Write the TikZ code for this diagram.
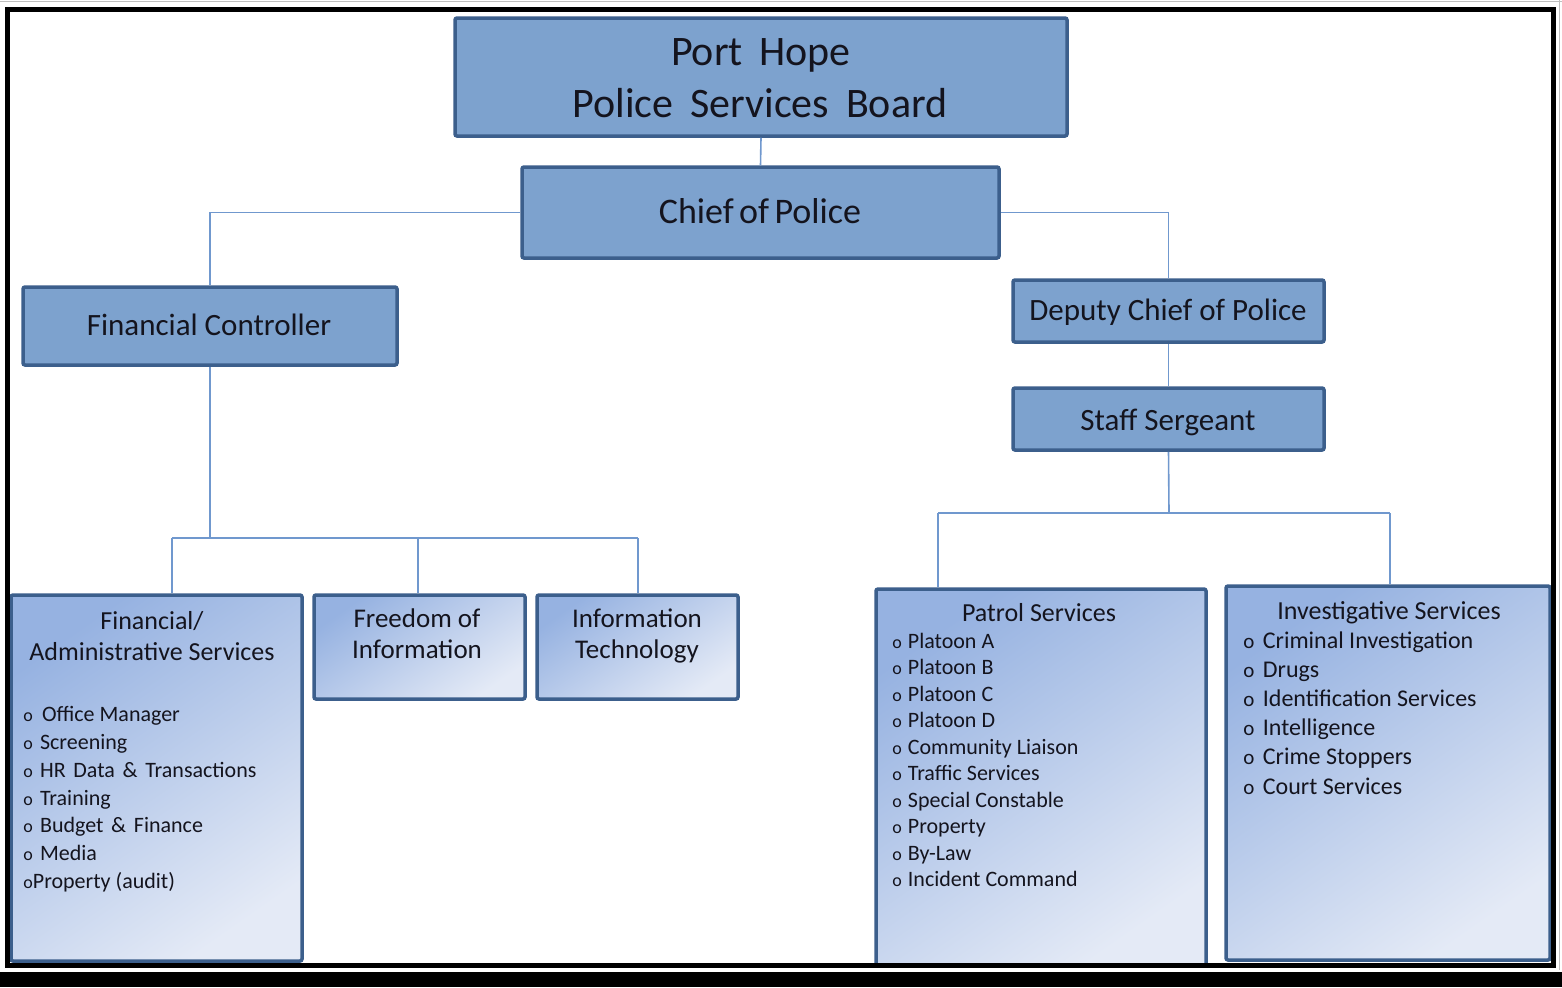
\documentclass[tikz,border=0pt]{standalone}
\usepackage{fontspec}
\setmainfont{Carlito}
\definecolor{boxfill}{RGB}{125,162,206}
\definecolor{boxline}{RGB}{60,95,140}
\definecolor{conncol}{RGB}{112,152,206}
\definecolor{gradA}{RGB}{150,178,225}
\definecolor{gradM}{RGB}{194,208,237}
\definecolor{gradB}{RGB}{228,234,246}
\definecolor{txt}{RGB}{20,20,30}
\newcommand\bulP{{\fontsize{9}{9}\selectfont o}\hspace{3pt}}
\newcommand\bulF{{\fontsize{9}{9}\selectfont o}\hspace{3.6pt}}
\newcommand\bulI{{\fontsize{10.5}{10.5}\selectfont o}\hspace{4.2pt}}
\newcommand\fsz[1]{\fontsize{#1}{#1}\selectfont}
\tikzset{
  topbox/.style={draw=boxline, line width=1.75pt, fill=boxfill, rounded corners=1pt, inner sep=0pt},
  subbox/.style={draw=boxline, line width=1.75pt, top color=gradA, middle color=gradM, bottom color=gradB, shading angle=35, rounded corners=1pt, inner sep=0pt},
  conn/.style={draw=conncol, line width=0.8pt},
  lbl/.style={anchor=base, inner sep=0pt, text=txt},
  itm/.style={anchor=base west, inner sep=0pt, text=txt},
}
\begin{document}
\begin{tikzpicture}[x=0.5pt,y=-0.5pt]
\useasboundingbox (0,0) rectangle (1562,987);
\fill[white] (0,0) rectangle (1562,987);

% boxes
\node[topbox, minimum width=306pt, minimum height=59pt] (board) at (761,77) {};
\node[topbox, minimum width=238.5pt, minimum height=45.5pt] (chief) at (760.5,212.5) {};
\node[topbox, minimum width=187pt, minimum height=39pt] (fc) at (210,326) {};
\node[topbox, minimum width=155.5pt, minimum height=31pt] (deputy) at (1168.5,311) {};
\node[topbox, minimum width=155.5pt, minimum height=31pt] (staff) at (1168.5,419) {};
\node[subbox, minimum width=145.5pt, minimum height=183pt] (finadm) at (156.5,778) {};
\node[subbox, minimum width=105.5pt, minimum height=52pt] (foi) at (419.5,647) {};
\node[subbox, minimum width=100.5pt, minimum height=52pt] (it) at (637.5,647) {};
\node[subbox, minimum width=165pt, minimum height=188.5pt] (patrol) at (1041,777.5) {};
\node[subbox, minimum width=162pt, minimum height=187pt] (inv) at (1388,773) {};

% connectors
\draw[conn] (board.south) -- (chief.north);
\draw[conn] (chief.west) -| (fc.north);
\draw[conn] (chief.east) -| (deputy.north);
\draw[conn] (deputy.south) -- (staff.north);
\coordinate (fbus) at (210,538);
\coordinate (fa) at (172,538);
\coordinate (fb) at (418,538);
\coordinate (fcc) at (638,538);
\draw[conn] (fc.south) -- (fbus);
\draw[conn] (fa) -- (fcc);
\draw[conn] (fa) -- (fa |- finadm.north);
\draw[conn] (fb) -- (fb |- foi.north);
\draw[conn] (fcc) -- (fcc |- it.north);
\coordinate (sbus) at (1169,513);
\coordinate (pa) at (938,513);
\coordinate (pb) at (1390,513);
\draw[conn] (staff.south) -- (sbus);
\draw[conn] (pa) -- (pb);
\draw[conn] (pa) -- (pa |- patrol.north);
\draw[conn] (pb) -- (pb |- inv.north);

% titles
\node[lbl, font=\fsz{21}] (t1) at (761,65) {Port\hspace{0.4em}Hope};
\node[lbl, font=\fsz{21}] (t2) at (760,117) {Police\hspace{0.4em}Services\hspace{0.4em}Board};
\node[lbl, font=\fsz{18}] (t3) at (760,223) {Chief\hspace{0.15em}of\hspace{0.15em}Police};
\node[lbl, font=\fsz{15.5}] (t4) at (209,335) {Financial Controller};
\node[lbl, font=\fsz{15.5}] (t5) at (1168,320) {Deputy Chief of Police};
\node[lbl, font=\fsz{15.5}] (t6) at (1168,430) {Staff Sergeant};
\node[lbl, font=\fsz{13}] (t7) at (152,629) {Financial/};
\node[lbl, font=\fsz{13}] (t8) at (152,660) {Administrative Services};
\node[lbl, font=\fsz{13.5}] (t9) at (417,627) {Freedom of};
\node[lbl, font=\fsz{13.5}] (t10) at (417,658) {Information};
\node[lbl, font=\fsz{13.5}] (t11) at (637,627) {Information};
\node[lbl, font=\fsz{13.5}] (t12) at (637,658) {Technology};
\node[lbl, font=\fsz{13}] (t13) at (1039,621) {Patrol Services};
\node[lbl, font=\fsz{13}] (t14) at (1389,619) {Investigative Services};

% financial / admin list
\begin{scope}[every node/.style={itm, font=\fsz{11}}]
\node (f1) at (23,721.7) {\bulF\hspace{1pt}Office Manager};
\node (f2) at (23,749.5) {\bulF Screening};
\node (f3) at (23,777.3) {\bulF HR\hspace{0.35em}Data\hspace{0.35em}\&\hspace{0.35em}Transactions};
\node (f4) at (23,805.1) {\bulF Training};
\node (f5) at (23,832.9) {\bulF Budget\hspace{0.35em}\&\hspace{0.35em}Finance};
\node (f6) at (23,860.7) {\bulF Media};
\node (f7) at (23,888.5) {{\fsz{9}o}Property (audit)};
\end{scope}

% patrol list
\begin{scope}[every node/.style={itm, font=\fsz{11}}]
\node (p1) at (892,648) {\bulP Platoon A};
\node (p2) at (892,674.5) {\bulP Platoon B};
\node (p3) at (892,701) {\bulP Platoon C};
\node (p4) at (892,727.5) {\bulP Platoon D};
\node (p5) at (892,754) {\bulP Community Liaison};
\node (p6) at (892,780.5) {\bulP Traffic Services};
\node (p7) at (892,807) {\bulP Special Constable};
\node (p8) at (892,833.5) {\bulP Property};
\node (p9) at (892,860) {\bulP By-Law};
\node (p10) at (892,886.5) {\bulP Incident Command};
\end{scope}

% investigative list
\begin{scope}[every node/.style={itm, font=\fsz{12}}]
\node (i1) at (1243,648) {\bulI Criminal Investigation};
\node (i2) at (1243,677.2) {\bulI Drugs};
\node (i3) at (1243,706.4) {\bulI Identification Services};
\node (i4) at (1243,735.6) {\bulI Intelligence};
\node (i5) at (1243,764.8) {\bulI Crime Stoppers};
\node (i6) at (1243,794) {\bulI Court Services};
\end{scope}

% frame
\draw[black, line width=2.75pt] (7.5,9.5) rectangle (1553.5,965.5);
\fill[black] (0,972) rectangle (1562,987);
\draw[gray!50, line width=0.75pt] (0,1.5) -- (1562,1.5);
\draw[gray!50, line width=0.75pt] (1559.5,0) -- (1559.5,970);
\end{tikzpicture}
\end{document}
